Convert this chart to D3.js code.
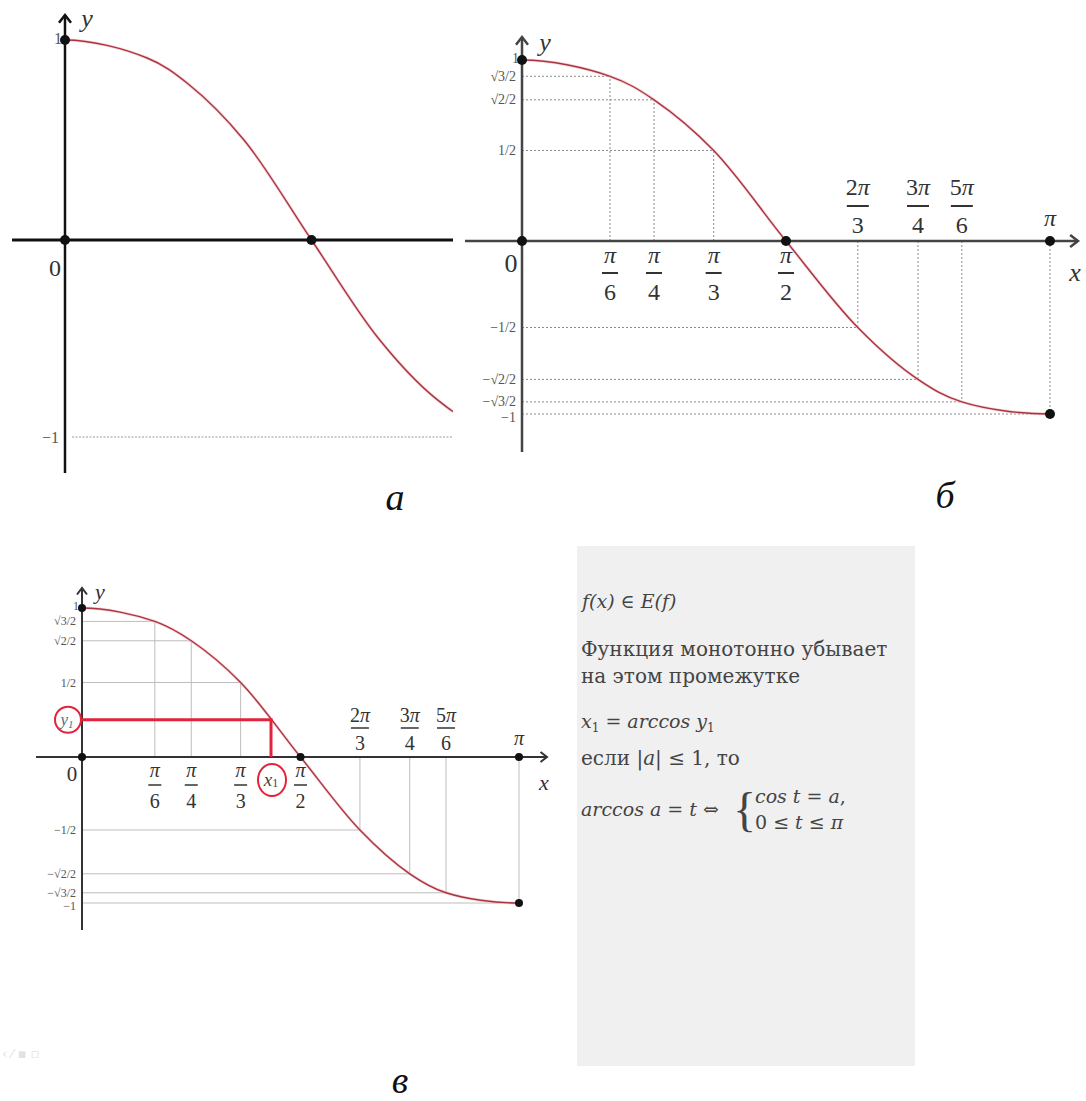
<!DOCTYPE html>
<html>
<head>
<meta charset="utf-8">
<script src="https://cdn.jsdelivr.net/npm/d3@7"></script>
<style>
  body { margin: 0; background: #fff; }
  svg { display: block; }
</style>
</head>
<body>
<svg id="chart"></svg>
<script>
// points of the curve as drawn (x in units of π)
let curveX = [0, 1 / 6, 1 / 4, 0.363, 1 / 2, 0.636, 3 / 4, 0.833, 1];
let curveY = [1, 0.91, 0.78, 0.5, 0, -0.5, -0.8, -0.93, -1];

// x tick labels (fractions of π)
let tickX = [1 / 6, 1 / 4, 0.363, 1 / 2, 0.636, 3 / 4, 0.833, 1];
let tickNum = ["π", "π", "π", "π", "2π", "3π", "5π", "π"];
let tickDen = ["6", "4", "3", "2", "3", "4", "6", ""];

// y level labels
let levelY = [1, 0.91, 0.78, 0.5, -0.5, -0.8, -0.93, -1];
let levelLabels = ["1", "√3/2", "√2/2", "1/2", "−1/2", "−√2/2", "−√3/2", "−1"];

// highlighted point in panel в
let y1Value = 0.25;
let x1Value = 0.4325;

let notes = [
  "Функция монотонно убывает",
  "на этом промежутке"
];

let w = 1086;
let h = 1101;
let serif = "'Liberation Serif', 'DejaVu Serif', serif";
let dvSerif = "'DejaVu Serif', serif";

let svg = d3.select("#chart").attr("width", w).attr("height", h);
svg.append("rect").attr("width", w).attr("height", h).attr("fill", "#fff");

let points = curveX.map(function (d, i) {
  return { x: d, y: curveY[i] };
});

// the curve is symmetric around 0 and π, so mirror two points on each side
// to get a flat start and end; the path is clipped to [0, π]
let padded = points.slice(1, 3).reverse().map(function (d) { return { x: -d.x, y: d.y }; })
  .concat(points)
  .concat(points.slice(-3, -1).reverse().map(function (d) { return { x: 2 - d.x, y: d.y }; }));

function drawPanel(p) {
  let x = d3.scaleLinear().domain([0, 1]).range(p.xRange);
  let y = d3.scaleLinear().domain([-1, 0, 1]).range(p.yRange);
  let g = svg.append("g");

  let clipId = "clip" + p.id;
  svg.append("clipPath").attr("id", clipId)
    .append("rect")
    .attr("x", x(0)).attr("y", 0)
    .attr("width", Math.min(p.clipRight, x(1)) - x(0)).attr("height", h);

  // guide lines
  if (p.guides) {
    let guidePts = points.filter(function (d) { return d.x > 0 && d.y !== 0; });
    g.selectAll(".gh").data(guidePts).enter().append("line")
      .attr("x1", x(0)).attr("x2", function (d) { return x(d.x); })
      .attr("y1", function (d) { return y(d.y); })
      .attr("y2", function (d) { return y(d.y); })
      .attr("stroke", p.guideColor).attr("stroke-width", 1)
      .attr("stroke-dasharray", p.guideDash);
    g.selectAll(".gv").data(guidePts).enter().append("line")
      .attr("x1", function (d) { return x(d.x); })
      .attr("x2", function (d) { return x(d.x); })
      .attr("y1", y(0))
      .attr("y2", function (d) { return y(d.y); })
      .attr("stroke", p.guideColor).attr("stroke-width", 1)
      .attr("stroke-dasharray", p.guideDash);
  } else {
    g.append("line")
      .attr("x1", x(0) + 7).attr("x2", p.clipRight)
      .attr("y1", y(-1)).attr("y2", y(-1))
      .attr("stroke", "#999").attr("stroke-width", 1.2)
      .attr("stroke-dasharray", "2,1.5");
  }

  // axes
  g.append("line")
    .attr("x1", p.xAxis[0]).attr("x2", p.xAxis[1])
    .attr("y1", y(0)).attr("y2", y(0))
    .attr("stroke", p.axisColor).attr("stroke-width", p.xAxisWidth);
  g.append("line")
    .attr("x1", x(0)).attr("x2", x(0))
    .attr("y1", p.yAxis[0]).attr("y2", p.yAxis[1])
    .attr("stroke", p.axisColor).attr("stroke-width", p.yAxisWidth);

  let a = p.arrow;
  g.append("path")
    .attr("d", `M${x(0) - a},${p.yAxis[1] + a * 1.3}L${x(0)},${p.yAxis[1]}L${x(0) + a},${p.yAxis[1] + a * 1.3}`)
    .attr("fill", "none").attr("stroke", p.axisColor).attr("stroke-width", p.yAxisWidth);
  if (p.xArrow) {
    g.append("path")
      .attr("d", `M${p.xAxis[1] - a * 1.3},${y(0) - a}L${p.xAxis[1]},${y(0)}L${p.xAxis[1] - a * 1.3},${y(0) + a}`)
      .attr("fill", "none").attr("stroke", p.axisColor).attr("stroke-width", p.xAxisWidth);
  }

  // curve
  let line = d3.line()
    .x(function (d) { return x(d.x); })
    .y(function (d) { return y(d.y); })
    .curve(d3.curveCatmullRom.alpha(0.5));
  g.append("path")
    .datum(padded)
    .attr("clip-path", `url(#${clipId})`)
    .attr("d", line)
    .attr("fill", "none")
    .attr("stroke", "#f2b8bf").attr("stroke-width", 3).attr("opacity", 0.6);
  g.append("path")
    .datum(padded)
    .attr("clip-path", `url(#${clipId})`)
    .attr("d", line)
    .attr("fill", "none")
    .attr("stroke", "#a8343f").attr("stroke-width", 1.4);

  // highlighted point
  if (p.highlight) {
    let red = "#e3233b";
    let px = x(x1Value);
    let py = y(y1Value);
    g.append("line").attr("x1", x(0)).attr("x2", px + 1.5).attr("y1", py).attr("y2", py)
      .attr("stroke", red).attr("stroke-width", 3);
    g.append("line").attr("x1", px).attr("x2", px).attr("y1", py).attr("y2", y(0))
      .attr("stroke", red).attr("stroke-width", 3);
    g.append("ellipse").attr("cx", x(0) - 14).attr("cy", py).attr("rx", 13).attr("ry", 13)
      .attr("fill", "none").attr("stroke", red).attr("stroke-width", 2);
    g.append("text").attr("x", x(0) - 15).attr("y", py)
      .attr("text-anchor", "middle").attr("dominant-baseline", "central")
      .attr("font-family", serif).attr("font-style", "italic").attr("font-size", 17)
      .attr("fill", "#4d6f82")
      .html("y<tspan font-size='11' dy='4'>1</tspan>");
    g.append("ellipse").attr("cx", px + 1).attr("cy", y(0) + 23).attr("rx", 14).attr("ry", 16)
      .attr("fill", "none").attr("stroke", red).attr("stroke-width", 2);
    g.append("text").attr("x", px).attr("y", y(0) + 22)
      .attr("text-anchor", "middle").attr("dominant-baseline", "central")
      .attr("font-family", serif).attr("font-style", "italic").attr("font-size", 19)
      .attr("fill", "#444")
      .html("x<tspan font-size='12' dy='4' font-style='normal'>1</tspan>");
  }

  // x tick labels
  if (p.fractions) {
    let f = p.fractions;
    tickX.forEach(function (v, i) {
      let cx = x(v);
      let above = curveY[curveX.indexOf(v)] < 0;
      let t = g.append("g").attr("fill", "#333")
        .attr("font-family", serif).attr("font-size", f.size);
      if (tickDen[i] === "") {
        t.append("text").attr("x", cx).attr("y", y(0) + f.single)
          .attr("text-anchor", "middle").attr("dominant-baseline", "central")
          .attr("font-style", "italic").text(tickNum[i]);
        return;
      }
      let o = above ? f.above : f.below;
      let num = t.append("text").attr("x", cx).attr("y", y(0) + o[0])
        .attr("text-anchor", "middle").attr("dominant-baseline", "central");
      let m = tickNum[i].match(/^(\d*)(π)$/);
      if (m[1]) num.append("tspan").text(m[1]);
      num.append("tspan").attr("font-style", "italic").text(m[2]);
      t.append("line")
        .attr("x1", cx - f.bar[i > 3 ? 1 : 0] / 2).attr("x2", cx + f.bar[i > 3 ? 1 : 0] / 2)
        .attr("y1", y(0) + o[1]).attr("y2", y(0) + o[1])
        .attr("stroke", "#333").attr("stroke-width", f.barWidth);
      t.append("text").attr("x", cx).attr("y", y(0) + o[2])
        .attr("text-anchor", "middle").attr("dominant-baseline", "central")
        .text(tickDen[i]);
    });
  }

  // y level labels
  let levels = p.guides ? levelY.map(function (d, i) { return { v: d, t: levelLabels[i] }; })
    : [{ v: 1, t: "1" }, { v: -1, t: "−1" }];
  g.selectAll(".lvl").data(levels).enter().append("text")
    .attr("x", function (d) { return d.t === "1" ? x(0) - 3 : x(0) - 6; })
    .attr("y", function (d) {
      if (d.t === "1") return y(d.v) - 2;
      if (d.t === "−1" && p.guides) return y(d.v) + 3;
      return y(d.v);
    })
    .attr("text-anchor", "end").attr("dominant-baseline", "central")
    .attr("font-family", serif).attr("font-size", p.levelSize)
    .attr("fill", "#555")
    .text(function (d) { return d.t; });

  // zero, axis names
  g.append("text").attr("x", x(0) - p.zero[0]).attr("y", y(0) + p.zero[1])
    .attr("text-anchor", "middle").attr("dominant-baseline", "central")
    .attr("font-family", serif).attr("font-size", p.zeroSize).attr("fill", "#333")
    .text("0");
  g.append("text").attr("x", x(0) + p.yName[0]).attr("y", p.yAxis[1] + p.yName[1])
    .attr("text-anchor", "middle").attr("dominant-baseline", "central")
    .attr("font-family", serif).attr("font-style", "italic").attr("font-size", p.nameSize)
    .attr("fill", "#333").text("y");
  if (p.xArrow) {
    g.append("text").attr("x", p.xAxis[1] - 3).attr("y", y(0) + p.xName)
      .attr("text-anchor", "middle").attr("dominant-baseline", "central")
      .attr("font-family", serif).attr("font-style", "italic").attr("font-size", p.nameSize)
      .attr("fill", "#333").text("x");
  }

  // dots
  let dots = [{ x: 0, y: 1 }, { x: 0, y: 0 }, { x: 0.5, y: 0 }];
  if (p.guides) dots.push({ x: 1, y: 0 }, { x: 1, y: -1 });
  g.selectAll(".dot").data(dots).enter().append("circle")
    .attr("cx", function (d) { return x(d.x); })
    .attr("cy", function (d) { return y(d.y); })
    .attr("r", p.dotR).attr("fill", "#111");

  // panel letter
  g.append("text").attr("x", p.letter[0]).attr("y", p.letter[1])
    .attr("text-anchor", "middle")
    .attr("font-family", serif).attr("font-style", "italic").attr("font-size", 38)
    .attr("fill", "#111").text(p.letter[2]);
}

drawPanel({
  id: "a", xRange: [65, 558], yRange: [437, 240, 40],
  xAxis: [12, 453], yAxis: [473, 15], clipRight: 453,
  axisColor: "#111", xAxisWidth: 3, yAxisWidth: 2.5, arrow: 6, xArrow: false,
  guides: false, levelSize: 16, zeroSize: 24, zero: [10, 28], nameSize: 26,
  yName: [22, 3], dotR: 5, letter: [395, 510, "а"]
});

drawPanel({
  id: "b", xRange: [522, 1050], yRange: [414, 241, 60],
  xAxis: [465, 1078], yAxis: [452, 37], clipRight: w,
  axisColor: "#444", xAxisWidth: 2.5, yAxisWidth: 2.5, arrow: 6, xArrow: true,
  guides: true, guideColor: "#8a8a8a", guideDash: "2,2",
  levelSize: 14, zeroSize: 26, zero: [11, 22], nameSize: 26, xName: 31,
  yName: [23, 5], dotR: 5, letter: [945, 508, "б"],
  fractions: { size: 24, below: [14, 32, 51], above: [-54, -35, -16], single: -23, bar: [16, 22], barWidth: 2 }
});

drawPanel({
  id: "c", xRange: [82, 519], yRange: [903, 757, 608],
  xAxis: [36, 547], yAxis: [930, 588], clipRight: w,
  axisColor: "#333", xAxisWidth: 2, yAxisWidth: 2, arrow: 5, xArrow: true,
  guides: true, guideColor: "#bdbdbd", guideDash: null,
  levelSize: 12, zeroSize: 21, zero: [10, 17], nameSize: 22, xName: 25,
  yName: [18, 3], dotR: 4, letter: [400, 1093, "в"],
  fractions: { size: 20, below: [13, 28, 44], above: [-42, -29, -14], single: -19, bar: [13, 18], barWidth: 1.5 },
  highlight: true
});

// note box
let box = svg.append("g");
box.append("rect").attr("x", 577).attr("y", 546).attr("width", 338).attr("height", 520)
  .attr("fill", "#f0f0f0");

let tx = box.append("g").attr("font-family", dvSerif).attr("fill", "#444").attr("font-size", 19);
tx.append("text").attr("x", 582).attr("y", 608).attr("font-style", "italic")
  .text("f(x) ∈ E(f)");
notes.forEach(function (s, i) {
  tx.append("text").attr("x", 581).attr("y", 656 + i * 27)
    .attr("font-size", 20).text(s);
});
tx.append("text").attr("x", 581).attr("y", 728)
  .html("<tspan font-style='italic'>x</tspan><tspan font-size='12' dy='4'>1</tspan><tspan dy='-4'> = </tspan><tspan font-style='italic'>arccos y</tspan><tspan font-size='12' dy='4'>1</tspan>");
tx.append("text").attr("x", 581).attr("y", 765)
  .attr("font-size", 20)
  .html("если |<tspan font-style='italic'>a</tspan>| ≤ 1, то");
tx.append("text").attr("x", 581).attr("y", 816)
  .html("<tspan font-style='italic'>arccos a</tspan> = <tspan font-style='italic'>t</tspan> ⇔");
tx.append("text").attr("x", 733).attr("y", 826).attr("font-size", 48)
  .attr("font-family", serif).attr("font-weight", 300)
  .text("{");
tx.append("text").attr("x", 755).attr("y", 803)
  .html("<tspan font-style='italic'>cos t</tspan> = <tspan font-style='italic'>a</tspan>,");
tx.append("text").attr("x", 755).attr("y", 829)
  .html("0 ≤ <tspan font-style='italic'>t</tspan> ≤ <tspan font-style='italic'>π</tspan>");

// faint marks at the lower left
svg.append("text").attr("x", 2).attr("y", 1058)
  .attr("font-family", "DejaVu Sans").attr("font-size", 13).attr("fill", "#e2e2e2")
  .text("‹ ⁄ ▪ ▫");
</script>
</body>
</html>
